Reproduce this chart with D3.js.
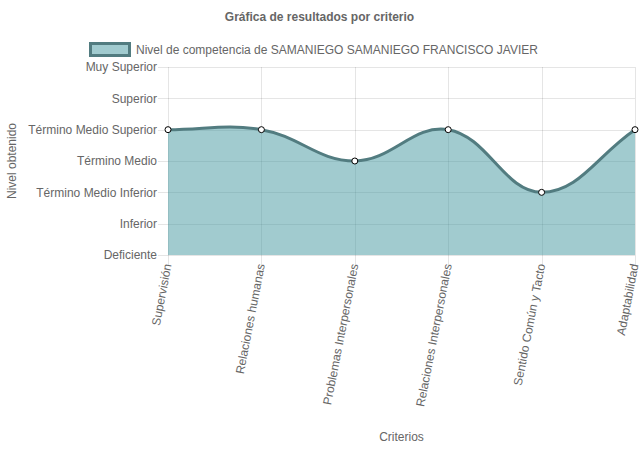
<!DOCTYPE html>
<html><head><meta charset="utf-8">
<script src="https://cdn.jsdelivr.net/npm/d3@7"></script>
<style>body{margin:0;background:#fff;}svg{display:block;font-family:"Liberation Sans",Arial,Helvetica,sans-serif;}</style>
</head><body>
<svg id="c" width="639" height="449"></svg>
<script>
const categories = ["Supervisión","Relaciones humanas","Problemas Interpersonales","Relaciones Interpersonales","Sentido Común y Tacto","Adaptabilidad"];
const levels = ["Deficiente","Inferior","Término Medio Inferior","Término Medio","Término Medio Superior","Superior","Muy Superior"];
const values = [4,4,3,4,2,4];
const seriesName = "Nivel de competencia de SAMANIEGO SAMANIEGO FRANCISCO JAVIER";
const chartTitle = "Gráfica de resultados por criterio";
const yTitle = "Nivel obtenido";
const xTitle = "Criterios";

const svg = d3.select("#c");
const L=168, R=635, T=67, B=255;
const x = d3.scalePoint().domain(categories).range([L,R]);
const y = d3.scaleLinear().domain([0,levels.length-1]).range([B,T]);
const grid = "rgba(0,0,0,0.1)", txt="#666";

// title
svg.append("text").attr("x",319.5).attr("y",21).attr("text-anchor","middle")
  .attr("font-size",12).attr("font-weight","bold").attr("fill",txt).text(chartTitle);

// legend
svg.append("rect").attr("x",90.5).attr("y",43.5).attr("width",39).attr("height",12)
  .attr("fill","rgba(67,151,159,0.5)").attr("stroke","#527c80").attr("stroke-width",3);
svg.append("text").attr("x",136).attr("y",54).attr("font-size",12).attr("fill",txt).text(seriesName);

// y grid and ticks
const yAxis = d3.axisLeft(y).ticks(levels.length).tickValues(d3.range(levels.length))
  .tickFormat(i=>levels[i]).tickSize(-(R-L)).tickPadding(11);
const gy = svg.append("g").attr("transform",`translate(${L},0)`).call(yAxis);
gy.select(".domain").remove();
gy.selectAll("line").attr("stroke",grid).attr("x1",-10).attr("shape-rendering","crispEdges");
gy.selectAll("text").attr("fill",txt).attr("font-size",12).attr("x",-11);

// x grid
const xAxis = d3.axisBottom(x).tickSize(-(B-T)).tickFormat("");
const gx = svg.append("g").attr("transform",`translate(0,${B})`).call(xAxis);
gx.select(".domain").remove();
gx.selectAll("line").attr("stroke",grid).attr("y2",10).attr("y1",-(B-T)).attr("shape-rendering","crispEdges");
gx.selectAll(".tick").append("text").attr("fill",txt).attr("font-size",12)
  .attr("text-anchor","end").attr("dominant-baseline","middle")
  .attr("transform","translate(0,9) rotate(-79)").text(d=>d);

// chart.js style spline
const pts = values.map((v,i)=>({x:x(categories[i]), y:y(v)}));
const t=0.4;
pts.forEach((p,i)=>{
  const prev = pts[Math.max(0,i-1)], next = pts[Math.min(pts.length-1,i+1)];
  const d01=Math.hypot(p.x-prev.x,p.y-prev.y), d12=Math.hypot(next.x-p.x,next.y-p.y);
  let s01=d01/(d01+d12), s12=d12/(d01+d12);
  if(isNaN(s01)) s01=0; if(isNaN(s12)) s12=0;
  const fa=t*s01, fb=t*s12;
  p.cpPx = p.x - fa*(next.x-prev.x); p.cpPy = p.y - fa*(next.y-prev.y);
  p.cpNx = p.x + fb*(next.x-prev.x); p.cpNy = p.y + fb*(next.y-prev.y);
  const cl=(v,a,b)=>Math.max(a,Math.min(b,v));
  p.cpPx=cl(p.cpPx,L,R); p.cpNx=cl(p.cpNx,L,R); p.cpPy=cl(p.cpPy,T,B); p.cpNy=cl(p.cpNy,T,B);
});
function linePath(p){
  p.moveTo(pts[0].x,pts[0].y);
  for(let i=1;i<pts.length;i++){
    const a=pts[i-1], b=pts[i];
    p.bezierCurveTo(a.cpNx,a.cpNy,b.cpPx,b.cpPy,b.x,b.y);
  }
  return p;
}
const area = linePath(d3.path());
area.lineTo(pts[pts.length-1].x,B); area.lineTo(pts[0].x,B); area.closePath();
svg.append("path").attr("d",area.toString()).attr("fill","rgba(67,151,159,0.5)");
svg.append("path").attr("d",linePath(d3.path()).toString()).attr("fill","none")
  .attr("stroke","#527c80").attr("stroke-width",3);

svg.selectAll("circle.pt").data(pts).join("circle").attr("class","pt")
  .attr("cx",d=>d.x).attr("cy",d=>d.y).attr("r",3).attr("fill","#fff").attr("stroke","#000").attr("stroke-width",1);

// axis titles
svg.append("text").attr("transform","translate(16,161) rotate(-90)").attr("text-anchor","middle")
  .attr("font-size",12).attr("fill",txt).text(yTitle);
svg.append("text").attr("x",401.5).attr("y",441).attr("text-anchor","middle")
  .attr("font-size",12).attr("fill",txt).text(xTitle);
</script>
</body></html>
